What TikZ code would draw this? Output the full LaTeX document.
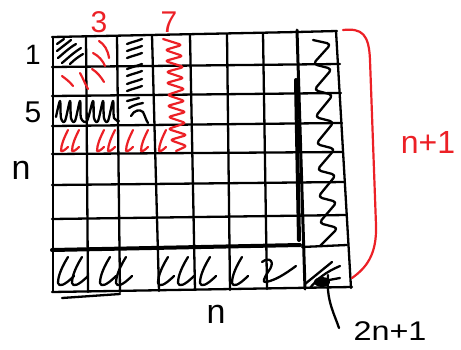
\documentclass[tikz,border=0pt]{standalone}
\usepackage{fontspec}
\setmainfont{Liberation Sans}
\definecolor{penred}{RGB}{236,32,38}
\begin{document}
\begin{tikzpicture}[x=1pt,y=-1pt,
  pen/.style={line width=2.3pt, line cap=round, line join=round, black},
  thickpen/.style={line width=4.0pt, line cap=round, black},
  redpen/.style={line width=2.2pt, line cap=round, line join=round, penred},
  lbl/.style={inner sep=0pt, black},
  rlbl/.style={inner sep=0pt, penred}]
\useasboundingbox (0,0) rectangle (461,349);
% ---------- grid: horizontal lines ----------
\draw[pen] (52,37) -- (297,32) -- (337,31);
\draw[pen] (52,67) -- (340,64);
\draw[pen] (52,96) -- (341,93);
\draw[pen] (52,126) -- (342,123);
\draw[pen] (52,154) -- (343,152);
\draw[pen] (52,185) -- (345,182);
\draw[pen] (52,219) -- (346,215);
\draw[thickpen] (52,250) -- (300,245);
\draw[pen] (302,247) -- (347,245);
\draw[pen] (52,292) -- (352,287);
\draw[pen] (62,298) -- (120,294);
% ---------- grid: vertical lines ----------
\draw[pen] (53,37) -- (53,292);
\draw[pen] (86,36) -- (88,292);
\draw[pen] (117,36) -- (120,292);
\draw[pen] (152,35) -- (159,291);
\draw[pen] (190,35) -- (195,290);
\draw[pen] (227,34) -- (230,290);
\draw[pen] (263,33) -- (267,289);
\draw[pen, line width=3pt] (297,30) -- (305,289);
\draw[thickpen] (296,80) -- (299,240);
\draw[pen] (336,31) -- (351,288);
% ---------- black hatching, row 1 col 1 ----------
\draw[pen] (57,44) -- (64,39);
\draw[pen] (57,51) .. controls (62,47) and (66,44) .. (71,40);
\draw[pen] (58,58) .. controls (64,53) and (69,48) .. (76,44);
\draw[pen] (62,63) .. controls (68,58) and (73,53) .. (81,48);
\draw[pen] (70,64) .. controls (74,60) and (78,57) .. (83,54);
% ---------- black hatching, col 3 rows 1-3 ----------
\foreach \y in {42,49,56,67,74,82,89}
  \draw[pen] (127,\y+2) .. controls (132,\y) and (137,\y-1) .. (142,\y-3);
\draw[pen] (127,101) -- (139,98);
\draw[pen] (129,108) .. controls (134,105) and (138,104) .. (143,103);
\draw[pen] (131,116) .. controls (134,110) and (140,109) .. (143,112)
  .. controls (145,116) and (146,120) .. (148,123);
% ---------- black cursive, row 3 cols 1-2 ----------
\draw[pen] plot[smooth, tension=0.55] coordinates {(56,117)(60,101)(61,118)(65,121)(70,101)(71,118)(75,121)(80,101)(81,118)(87,121)(93,101)(94,118)(98,121)(103,101)(104,118)(108,121)(113,101)(114,118)(119,121)};
% ---------- red arcs, rows 1-2 cols 1-2 ----------
\draw[redpen] (99,41) .. controls (104,44) and (108,50) .. (109,58);
\draw[redpen] (93,53) .. controls (99,56) and (103,61) .. (105,66);
\draw[redpen] (92,69) .. controls (97,72) and (101,77) .. (104,82);
\draw[redpen] (80,73) .. controls (83,78) and (85,84) .. (88,89);
\draw[redpen] (62,76) .. controls (66,79) and (70,82) .. (73,86);
% ---------- red zigzag, column labelled 7 ----------
\draw[redpen, rounded corners=3pt] (163,39) -- (182,45) -- (165,50) -- (183,56) -- (165,61) -- (184,67) -- (166,72) -- (184,78) -- (166,83) -- (185,89) -- (167,95) -- (185,101) -- (167,106) -- (186,112) -- (168,117) -- (186,123) -- (168,129) -- (187,135) -- (170,140) -- (187,146) -- (176,151);
% ---------- red strokes, row 4 ----------
\foreach \x in {60,71,96,107,125,140,158}
  \draw[redpen] (\x+8,130) .. controls (\x+4,138) and (\x+1,145) .. (\x+1,151)
    .. controls (\x+2,152) and (\x+5,150) .. (\x+8,147);
% ---------- black zigzag, last column ----------
\draw[pen, rounded corners=4pt] (313,40) -- (331,44) -- (313,64) -- (332,69) -- (314,90) -- (333,95) -- (315,117) -- (334,122) -- (316,144) -- (335,149) -- (317,170) -- (336,175) -- (318,197) -- (337,202) -- (319,223) -- (338,228) -- (320,246);
% ---------- bottom-right cell scribble ----------
\draw[pen] (305,284) -- (332,262);
\draw[pen] (310,288) .. controls (318,278) and (326,272) .. (340,266);
\draw[pen] (318,282) -- (340,278);
\fill (322,282) ellipse (8pt and 5pt);
% ---------- black cursive, bottom row ----------
\foreach \x in {58,72,100,116,158,178,200,232}
  \draw[pen] (\x+10,257) .. controls (\x+5,265) and (\x,275) .. (\x,283)
    .. controls (\x+1,287) and (\x+6,286) .. (\x+16,276);
\draw[pen] (262,262) .. controls (270,256) and (276,262) .. (268,272)
  .. controls (264,278) and (262,283) .. (266,282) .. controls (276,280) and (285,274) .. (296,266);
% ---------- labels ----------
\node[rlbl, font=\fontsize{30}{30}\selectfont] (c3) at (99,22) {3};
\node[rlbl, font=\fontsize{30}{30}\selectfont] (c7) at (169,22) {7};
\node[lbl, font=\fontsize{28}{28}\selectfont] (r1) at (33,55) {1};
\node[lbl, font=\fontsize{30}{30}\selectfont] (r5) at (33,112) {5};
\node[lbl, font=\fontsize{34}{34}\selectfont] (rn) at (21,170) {n};
\node[lbl, font=\fontsize{34}{34}\selectfont] (bn) at (216,314) {n};
\node[rlbl, font=\fontsize{32}{32}\selectfont] (np1) at (428,142) {n+1};
\node[lbl, font=\fontsize{27}{27}\selectfont, xscale=1.2] (tn) at (390,331) {2n+1};
% ---------- brace ----------
\coordinate (btop) at (343,30);
\coordinate (bbot) at (352,278);
\draw[redpen] (btop) .. controls (362,28) and (369,34) .. (370,60)
  -- (376,225) .. controls (377,255) and (366,268) .. (bbot);
% ---------- pointer ----------
\coordinate (corner) at (328,275);
\coordinate (ptr) at (339,328);
\draw[pen] (corner) .. controls (326,300) and (334,313) .. (ptr);
\end{tikzpicture}
\end{document}
